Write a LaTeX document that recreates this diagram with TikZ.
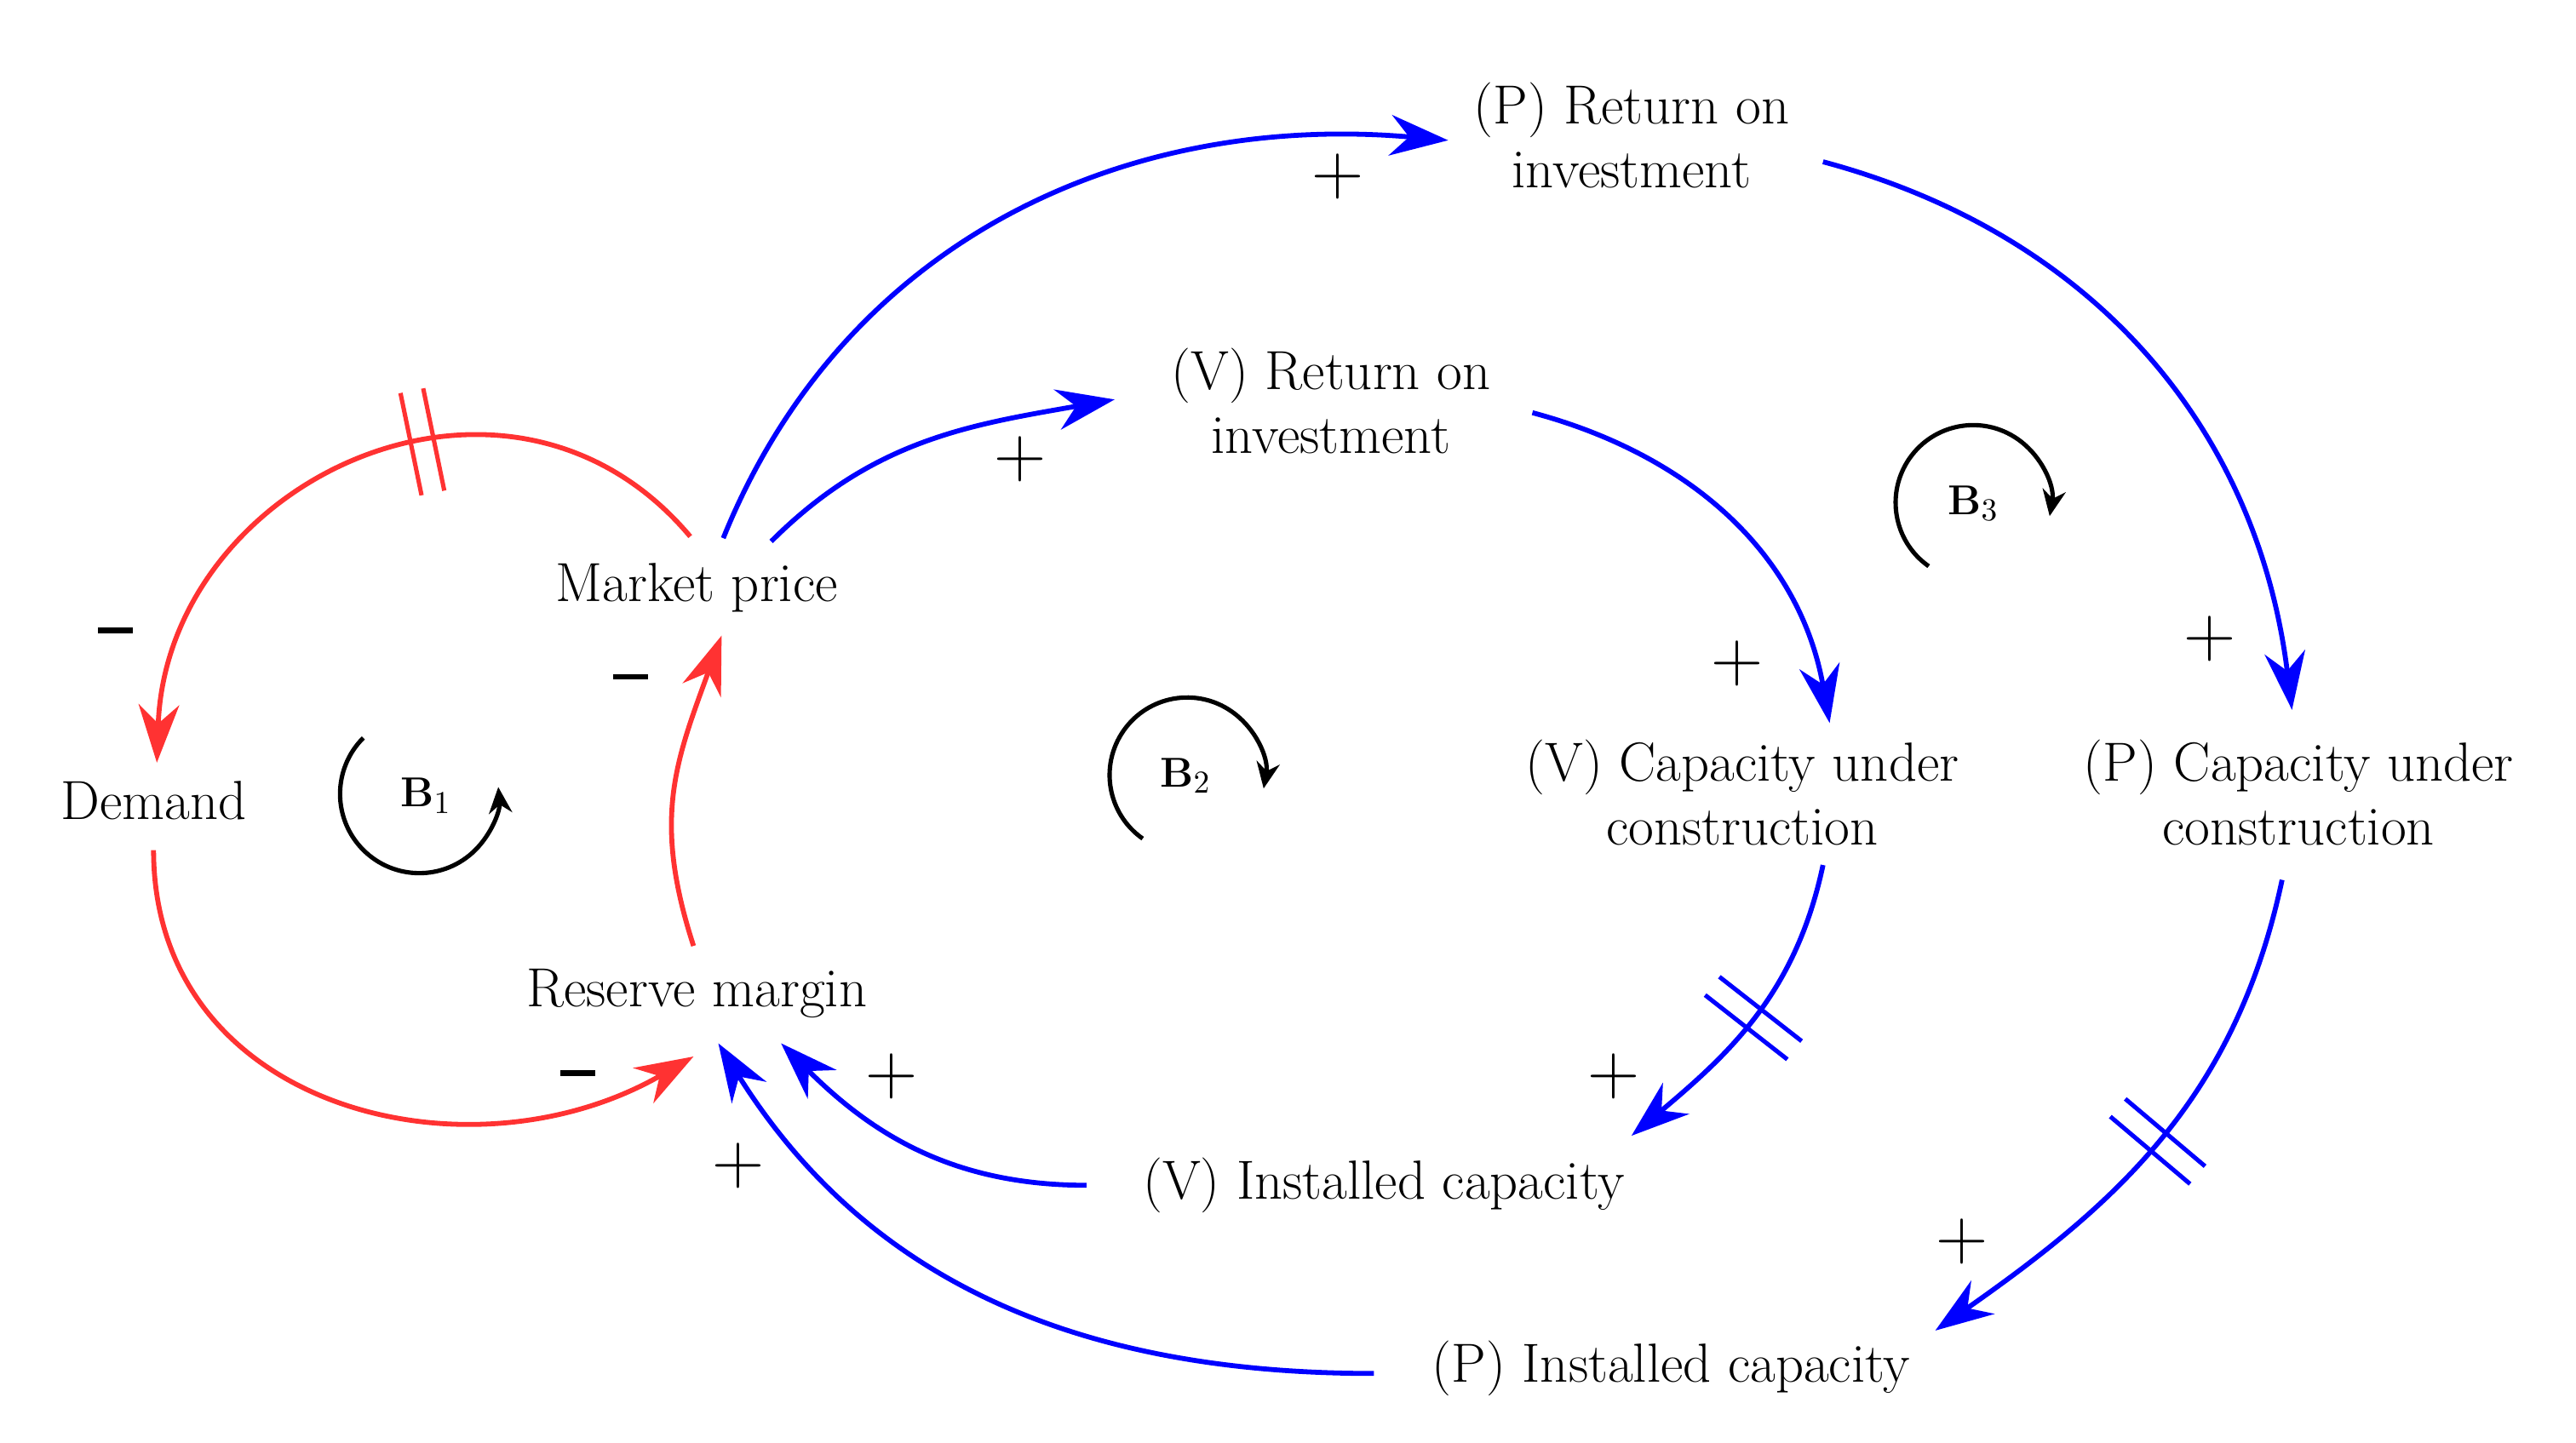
\documentclass[tikz,border=0pt]{standalone}
\usetikzlibrary{arrows.meta,decorations.markings}
\begin{document}
\begin{tikzpicture}[x=0.02cm,y=-0.02cm,
  txt/.style={font=\fontsize{19}{22}\selectfont,align=center,inner sep=0pt},
  sgn/.style={font=\fontsize{26}{28}\selectfont},
  lnk/.style={line width=1.7pt,-{Stealth[length=20pt,width=14pt]}},
  rd/.style={lnk,draw={rgb,255:red,255;green,50;blue,50}},
  bl/.style={lnk,draw=blue},
  delay/.style={postaction={decorate,decoration={markings,mark=at position #1 with {\draw[line width=1.5pt,-] (-4pt,-18pt)--(-4pt,18pt) (4pt,-18pt)--(4pt,18pt);}}}},
  loopa/.style={line width=1.5pt,-{Stealth[length=9pt,width=8pt]}},
  mns/.style={fill=black,minimum width=0.42cm,minimum height=0.07cm,inner sep=0pt}]
\useasboundingbox (0,0) rectangle (1560,874);
\node[txt] (dem) at (93,485) {Demand};
\node[txt] (mp) at (422,356) {Market price};
\node[txt] (rm) at (422,602) {Reserve margin};
\node[txt] (vroi) at (806,243) {(V) Return on\\investment};
\node[txt] (proi) at (988,82) {(P) Return on\\investment};
\node[txt] (vcuc) at (1055,480) {(V) Capacity under\\construction};
\node[txt] (pcuc) at (1392,480) {(P) Capacity under\\construction};
\node[txt] (vin) at (838,718) {(V) Installed capacity};
\node[txt] (pin) at (1012,829) {(P) Installed capacity};

\coordinate (mp-a) at (418,325); \coordinate (dem-a) at (95,462);
\coordinate (dem-b) at (93,515); \coordinate (rm-b) at (420,640);
\coordinate (rm-c) at (420,573); \coordinate (mp-c) at (437,385);
\coordinate (mp-d) at (467,328); \coordinate (vroi-d) at (675,242);
\coordinate (mp-e) at (438,326); \coordinate (proi-e) at (877,85);
\coordinate (vroi-f) at (928,250); \coordinate (vcuc-f) at (1108,438);
\coordinate (proi-g) at (1104,98); \coordinate (pcuc-g) at (1388,430);
\coordinate (vcuc-h) at (1104,524); \coordinate (vin-h) at (988,688);
\coordinate (pcuc-i) at (1382,533); \coordinate (pin-i) at (1172,806);
\coordinate (vin-j) at (658,718); \coordinate (rm-j) at (473,632);
\coordinate (pin-k) at (832,832); \coordinate (rm-k) at (435,632);

\draw[rd,delay=0.4] (mp-a) to[out=130,in=88,looseness=1.25] (dem-a);
\draw[rd] (dem-b) to[out=-90,in=-150,looseness=1.15] (rm-b);
\draw[rd] (rm-c) to[out=108,in=-110,looseness=1.1] (mp-c);
\draw[bl] (mp-d) to[out=45,in=190] (vroi-d);
\draw[bl] (mp-e) to[out=68,in=175] (proi-e);
\draw[bl] (vroi-f) to[out=-15,in=100] (vcuc-f);
\draw[bl] (proi-g) to[out=-15,in=97] (pcuc-g);
\draw[bl,delay=0.5] (vcuc-h) to[out=-102,in=40] (vin-h);
\draw[bl,delay=0.5] (pcuc-i) to[out=-102,in=35] (pin-i);
\draw[bl] (vin-j) to[out=180,in=-45] (rm-j);
\draw[bl] (pin-k) to[out=180,in=-58] (rm-k);

\node[mns] (m1) at (70,382) {};
\node[mns] (m2) at (350,650) {};
\node[mns] (m3) at (382,410) {};
\node[sgn] (p1) at (618,278) {$+$};
\node[sgn] (p2) at (810,107) {$+$};
\node[sgn] (p3) at (1052,402) {$+$};
\node[sgn] (p4) at (1338,387) {$+$};
\node[sgn] (p5) at (977,652) {$+$};
\node[sgn] (p6) at (1188,752) {$+$};
\node[sgn] (p7) at (540,652) {$+$};
\node[sgn] (p8) at (447,706) {$+$};

\node[font=\fontsize{15}{18}\selectfont] (b1) at (258,482) {$\mathbf{B}_1$};
\node[font=\fontsize{15}{18}\selectfont] (b2) at (718,470) {$\mathbf{B}_2$};
\node[font=\fontsize{15}{18}\selectfont] (b3) at (1195,305) {$\mathbf{B}_3$};
\draw[loopa] (220,447) arc[start angle=135,end angle=365,radius=0.96cm];
\draw[loopa] (692,508) arc[start angle=235,end angle=-10,radius=0.94cm];
\draw[loopa] (1168,343) arc[start angle=235,end angle=-10,radius=0.94cm];
\end{tikzpicture}
\end{document}
